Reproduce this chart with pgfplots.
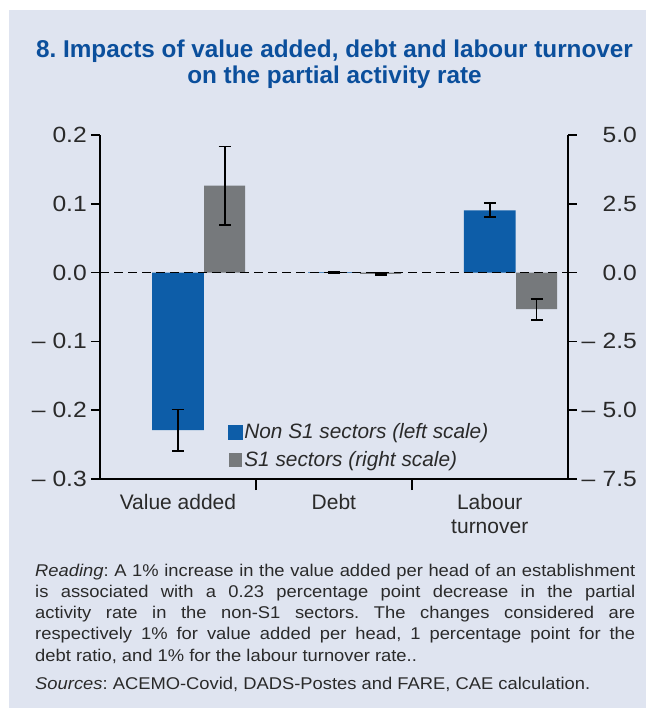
\documentclass[border=0pt]{standalone}
\usepackage{fontspec}
\setmainfont{Liberation Sans}
\newfontfamily\notefont{Liberation Sans}[Ligatures=TeX, FakeStretch=1.08]
\newfontfamily\tickfont{Liberation Sans}[Ligatures=TeX, FakeStretch=1.12]
\usepackage{pgfplots}
\pgfplotsset{compat=1.18}

\definecolor{panel}{HTML}{DFE4F0}
\definecolor{titleblue}{HTML}{0B4F9C}
\definecolor{barblue}{HTML}{0D5DA8}
\definecolor{bargrey}{HTML}{76797C}
\definecolor{txt}{HTML}{2A2A2A}

\pgfplotsset{
  common/.style={
    scale only axis, width=467.7pt, height=344pt,
    at={(100pt,-479pt)}, anchor=south west,
    xmin=-0.5, xmax=2.5,
    axis line style={line width=1.6pt, black, -},
    tick align=outside, major tick length=9pt, minor tick length=11pt,
    tick style={line width=1.6pt, black},
    ticklabel style={font=\fontsize{21}{23.3}\selectfont, text=txt},
    yticklabel style={font=\tickfont\fontsize{22}{24}\selectfont},
  },
  errs/.style={
    error bars/y dir=both, error bars/y explicit,
    error bars/error bar style={line width=1.9pt, black},
    error bars/error mark options={rotate=90, mark size=6pt, line width=1.9pt, black},
  },
}

\begin{document}
\frenchspacing
\begin{tikzpicture}[x=1pt,y=1pt]
\useasboundingbox (0,0) rectangle (646,-708);
\fill[white] (0,0) rectangle (646,-708);
\fill[panel] (8.5,-10.5) rectangle (646,-708);

\node[anchor=base, text=titleblue, font=\fontsize{24.3}{28}\selectfont\bfseries]
  at (334.5,-57.3) {8. Impacts of value added, debt and labour turnover};
\node[anchor=base, text=titleblue, font=\fontsize{24.3}{28}\selectfont\bfseries]
  at (334.5,-84) {on the partial activity rate};

% left scale: non S1 sectors
\begin{axis}[common,
    ymin=-0.3, ymax=0.2,
    axis x line*=bottom, axis y line*=left,
    ytick={-0.3,-0.2,-0.1,0,0.1,0.2},
    yticklabels={{-- 0.3},{-- 0.2},{-- 0.1},0.0,0.1,0.2},
    yticklabel style={inner xsep=4pt},
    xtick={0,1,2},
    xticklabels={Value added, Debt, {Labour\\turnover}},
    xticklabel style={align=center, yshift=-3pt},
    major x tick style={draw=none},
    minor xtick={0.5,1.5},
    ybar, bar width=0.331,
]
\addplot[fill=barblue, draw=none, errs] coordinates {
  (0,-0.229) +- (0,0.030)
  (1,0.0006) +- (0,0.0006)
  (2,0.0905) +- (0,0.0103)
};
\end{axis}

% right scale: S1 sectors
\begin{axis}[common,
    ymin=-7.5, ymax=5,
    axis x line=none, axis y line*=right,
    ytick={-7.5,-5,-2.5,0,2.5,5},
    yticklabels={{-- 7.5},{-- 5.0},{-- 2.5},0.0,2.5,5.0},
    yticklabel style={inner xsep=3pt, text width=57pt, align=right},
    ybar, bar width=0.263, bar shift=0.30,
    legend style={at={(axis description cs:0.274,0.096)}, anchor=west,
      draw=none, fill=none, inner sep=0pt, row sep=7pt,
      font=\fontsize{20.8}{22}\selectfont\itshape, text=txt,
      cells={anchor=west}},
]
\addlegendimage{legend image code/.code={\fill[barblue] (0pt,-6.8pt) rectangle (13.6pt,6.8pt);}}
\addlegendentry{Non S1 sectors (left scale)}
\addplot[fill=bargrey, draw=none, errs,
  legend image code/.code={\fill[bargrey] (0pt,-6.8pt) rectangle (13.6pt,6.8pt);}]
  coordinates {
  (0,3.16) +- (0,1.42)
  (1,-0.05) +- (0,0.05)
  (2,-1.33) +- (0,0.38)
};
\addlegendentry{S1 sectors (right scale)}
\addplot[forget plot, sharp plot, black, line width=1.8pt, dash pattern=on 9pt off 5pt]
  coordinates {(-0.5,0) (2.5,0)};
\end{axis}

\node[anchor=base west, text width=600pt, align=justify, text=txt,
  font=\notefont\fontsize{17}{21.3}\selectfont] at (31.7,-576)
  {\textit{Reading}: A 1\% increase in the value added per head of an establishment\linebreak
   is associated with a 0.23 percentage point decrease in the partial\linebreak
   activity rate in the non-S1 sectors. The changes considered are\linebreak
   respectively 1\% for value added per head, 1 percentage point for the\linebreak
   debt ratio, and 1\% for the labour turnover rate..};
\node[anchor=base west, text=txt, font=\notefont\fontsize{17}{21.3}\selectfont] at (31.7,-689)
  {\textit{Sources}: ACEMO-Covid, DADS-Postes and FARE, CAE calculation.};
\end{tikzpicture}
\end{document}
